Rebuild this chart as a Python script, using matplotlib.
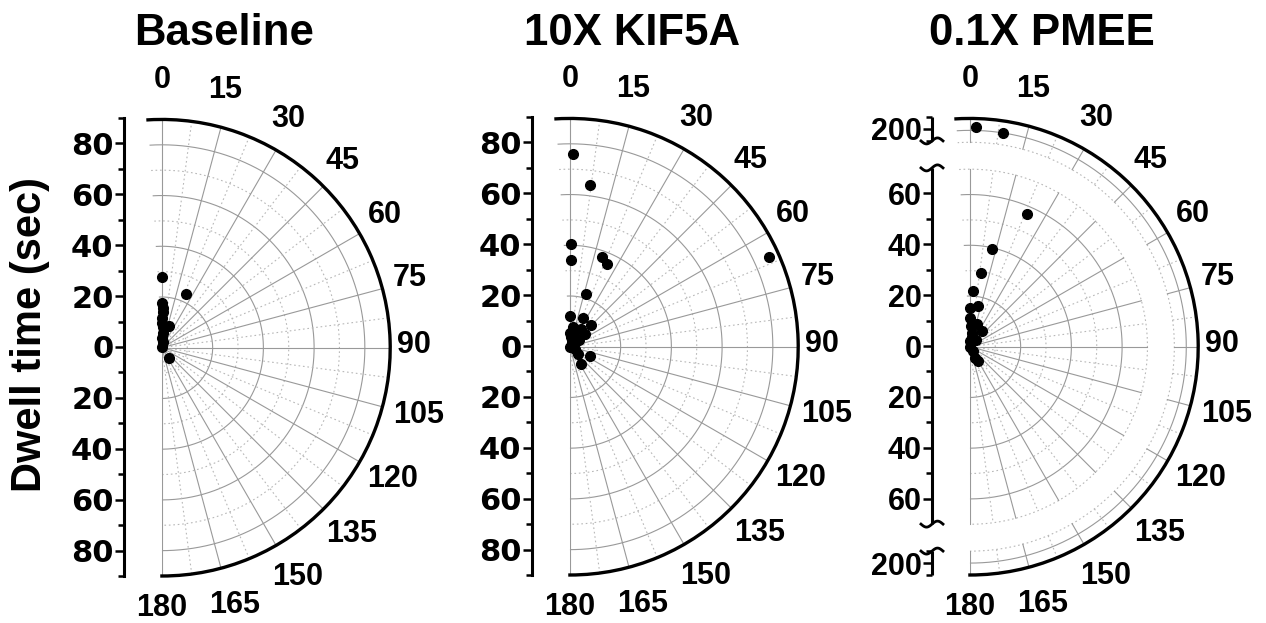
import numpy as np
import matplotlib
matplotlib.use("Agg")
import matplotlib.pyplot as plt
from matplotlib import transforms

plt.rcParams['font.family'] = ['Liberation Sans', 'DejaVu Sans']
plt.rcParams['font.weight'] = 'bold'

W, H = 1266, 623

titles = ['Baseline', '10X KIF5A', '0.1X PMEE']

# angle (deg, 0 = top, clockwise) and dwell time (sec) of each event
baseline_ang = [0, 23.6, 0, 1, 2, 0, 0, 4, 5, 0, 8, 0, 18.9, 144.7]
baseline_dwell = [27.9, 23.3, 17.8, 15.8, 13.9, 11.9, 9.9, 8.0, 6.0, 4.0, 2.1, 0.1, 8.85, 5.0]

kif5a_ang = [0.8, 7.0, 0.4, 0.9, 19.7, 24.0, 65.7, 16.6, 0, 23.9, 44.6, 114, 148,
             9.8, 33, 50, 4, 54, 0, 115, 131, 21, 19, 0]
kif5a_dwell = [76.0, 64.4, 40.4, 34.1, 37.6, 35.8, 86.0, 21.6, 12.1, 12.3, 12.1, 8.6, 8.0,
               7.7, 8.3, 7.7, 3.7, 4.5, 0, 2.2, 4.3, 1.8, 6.0, 5.5]

pmee_ang = [1.6, 8.7, 23.4, 12.8, 8.5, 3.4, 0, 10.5, 0, 17.6, 38, 7, 0, 46, 0,
            143, 157, 150, 3, 10]
pmee_dwell = [202.5, 199.6, 57.1, 39.5, 29.4, 22.2, 15.4, 16.5, 11.4, 9.5, 7.8, 5.5, 2.2, 3.6, 0,
              2.1, 5.0, 6.5, 8.0, 4.0]

theta_ticks = list(range(0, 181, 15))
r_major = [20, 40, 60, 80]
r_minor = [10, 30, 50, 70]
y_major = [-80, -60, -40, -20, 0, 20, 40, 60, 80]
y_minor = [-90, -70, -50, -30, -10, 10, 30, 50, 70, 90]

# broken radial axis of the 0.1X PMEE panel
brk_low = 70
brk_high = (190, 210)
pmee_r_major = [20, 40, 60, 200]
pmee_r_minor = [10, 30, 50, 70, 190]
pmee_y_major = [-200, -60, -40, -20, 0, 20, 40, 60, 200]
pmee_y_minor = [-210, -190, -50, -30, -10, 10, 30, 50, 190, 210]

RMAX = 90.0
HIGH_START = 80.6
R = 229           # px radius of the half circle
OFF = 38          # px from radial axis line to the pole
TMIN = -3.5
centers = [(162, 347), (570, 346), (970, 346)]
title_x = [224, 632, 1042]


def plain_r(r):
    return np.asarray(r, float)


def pmee_r(r):
    r = np.asarray(r, float)
    up = HIGH_START + (r - brk_high[0]) * (RMAX - HIGH_START) / (brk_high[1] - brk_high[0])
    return np.where(r <= brk_low, r, up)


def signed(fun, v):
    v = np.asarray(v, float)
    return np.sign(v) * fun(np.abs(v))


fig = plt.figure(figsize=(W / 100, H / 100), dpi=100)
shift_down = transforms.ScaledTranslation(0, -3 / 100, fig.dpi_scale_trans)


def label_spot(a):
    # distance (px) and angle of an angle label
    s = np.sin(np.deg2rad(a))
    c = np.cos(np.deg2rad(a))
    if a == 180:
        return 258, a
    if a > 90:
        return 265, a - 1
    d = 262 + 10 * c ** 8 - 9 * s ** 30
    return d, (a if a == 0 else a - 1.4)


def make_panel(cx, cy, ang, dwell, rfun, rmaj, rmin, ymaj, ymin, broken, yfont):
    # the wedge bbox gets squared by matplotlib, so give it a square box centred on it
    ext = np.sin(np.deg2rad(-TMIN))
    mid = cx + R * (1 - ext) / 2
    ax = fig.add_axes([(mid - R) / W, (H - cy - R) / H, 2 * R / W, 2 * R / H],
                      projection='polar')
    ax.set_theta_zero_location('N')
    ax.set_theta_direction(-1)
    ax.set_thetalim(np.deg2rad(TMIN), np.deg2rad(180))
    ax.set_rlim(0, RMAX)
    ax.grid(False)
    ax.set_yticks([])
    ax.set_xticks(np.deg2rad(theta_ticks))
    ax.set_xticklabels([])
    ax.tick_params(axis='x', direction='out', length=6, width=1.8, color='k')
    ax.patch.set_visible(False)
    for s in ('start', 'end', 'inner'):
        ax.spines[s].set_visible(False)
        ax.spines[s].set_linewidth(0)
        ax.spines[s].set_edgecolor('none')
    ax.spines['polar'].set_linewidth(2.4)

    # grid circles
    th = np.deg2rad(np.linspace(TMIN, 180, 500))
    for rv in rmaj:
        ax.plot(th, np.full_like(th, rfun(rv)), color='#999999', lw=0.8, zorder=1)
    for rv in rmin:
        ax.plot(th, np.full_like(th, rfun(rv)), color='#b8b8b8', lw=0.8,
                ls=(0, (1.5, 2.5)), zorder=1)
    # spokes
    if broken:
        segs = [(0, float(rfun(brk_low))), (float(rfun(brk_high[0])), RMAX)]
    else:
        segs = [(0, RMAX)]
    for a in np.arange(0, 180.1, 7.5):
        major = abs(a % 15) < 1e-6
        for r0, r1 in segs:
            if major:
                ax.plot([np.deg2rad(a)] * 2, [r0, r1], color='#999999', lw=0.8, zorder=1)
            else:
                ax.plot([np.deg2rad(a)] * 2, [r0, r1], color='#b8b8b8', lw=0.8,
                        ls=(0, (1.5, 2.5)), zorder=1)

    # angle labels
    for a in theta_ticks:
        d, al = label_spot(a)
        ax.text(np.deg2rad(al), d * RMAX / R, str(a), ha='center', va='center', fontsize=22,
                fontweight='bold', clip_on=False, transform=ax.transData + shift_down)

    ax.plot(np.deg2rad(ang), rfun(dwell), 'o', color='k', ms=7, zorder=5, clip_on=False)

    # radial axis on the left, mirrored above and below the pole
    rax = fig.add_axes([(cx - OFF) / W, (H - cy - R) / H, OFF / W, 2 * R / H])
    rax.set_xlim(0, 1)
    rax.set_ylim(-RMAX, RMAX)
    rax.patch.set_visible(False)
    for s in ('top', 'right', 'bottom'):
        rax.spines[s].set_visible(False)
    rax.set_xticks([])
    rax.set_yticks(signed(rfun, ymaj))
    rax.set_yticklabels([str(abs(v)) for v in ymaj], family=yfont, fontsize=22,
                        fontweight='bold')
    rax.set_yticks(signed(rfun, ymin), minor=True)
    rax.tick_params(axis='y', which='major', length=6.5, width=1.8, pad=1)
    rax.tick_params(axis='y', which='minor', length=4, width=1.8)
    rax.spines['left'].set_linewidth(2.2)

    if broken:
        rax.spines['left'].set_visible(False)
        blend = transforms.blended_transform_factory(rax.transAxes, rax.transData)
        parts = [(-brk_high[1], -brk_high[0]), (-brk_low, brk_low), brk_high]
        for a, b in parts:
            rax.plot([0, 0], [signed(rfun, a), signed(rfun, b)], color='k', lw=2.2,
                     transform=blend, clip_on=False, solid_capstyle='butt')
        px = 2 * R / (2 * RMAX)
        xs = np.linspace(-11, 11, 40)
        for yv in (-brk_high[0], -brk_low, brk_low, brk_high[0]):
            ys = float(signed(rfun, yv)) + (3 / px) * np.sin(np.pi * xs / 11)
            rax.plot(xs / OFF, ys, color='k', lw=2.0, transform=blend, clip_on=False)
    return ax


wide = ['DejaVu Sans']
narrow = ['Liberation Sans', 'DejaVu Sans']
make_panel(*centers[0], baseline_ang, baseline_dwell, plain_r, r_major, r_minor,
           y_major, y_minor, False, wide)
make_panel(*centers[1], kif5a_ang, kif5a_dwell, plain_r, r_major, r_minor,
           y_major, y_minor, False, wide)
make_panel(*centers[2], pmee_ang, pmee_dwell, pmee_r, pmee_r_major, pmee_r_minor,
           pmee_y_major, pmee_y_minor, True, narrow)

for tx, t in zip(title_x, titles):
    fig.text(tx / W, 1 - 45 / H, t, ha='center', va='baseline', fontsize=31.5,
             fontweight='bold')

fig.text(30 / W, 1 - 335 / H, 'Dwell time (sec)', rotation=90, ha='center', va='center',
         fontsize=30, fontweight='bold')

fig.savefig('out.png', dpi=100)
